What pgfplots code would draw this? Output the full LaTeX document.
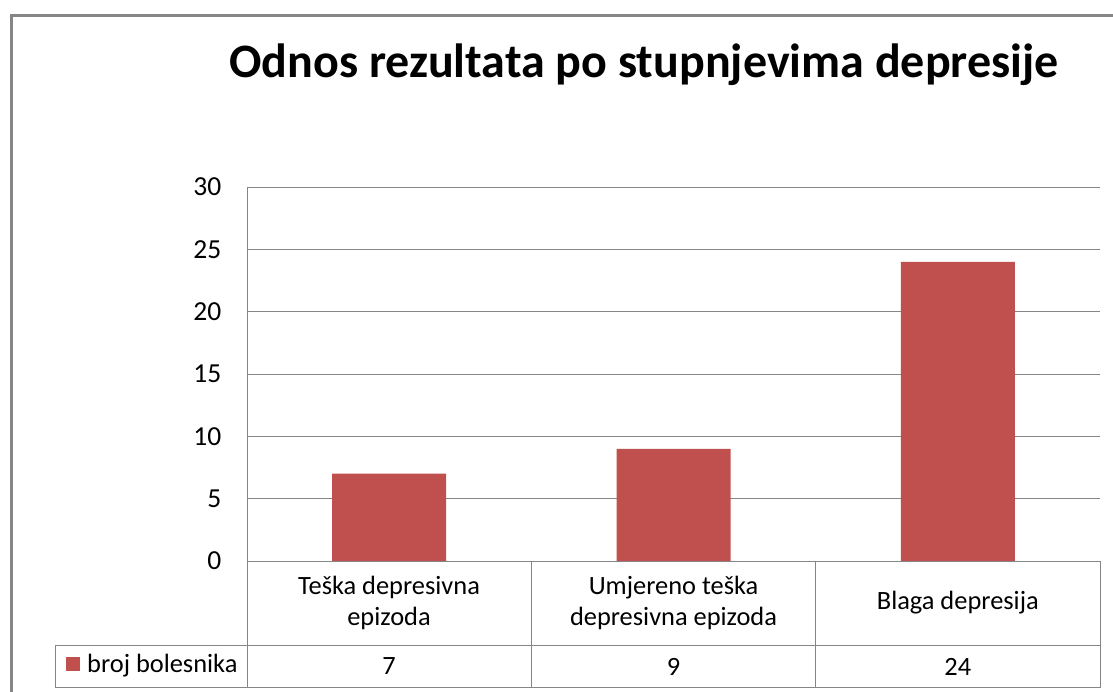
\documentclass[border=0pt]{standalone}
\usepackage{fontspec}
\setmainfont{Carlito}
\usepackage{pgfplots}
\pgfplotsset{compat=1.18}
\definecolor{barred}{HTML}{C0504D}
\definecolor{gridgray}{HTML}{868686}
\newcommand{\bodyfont}{\fontsize{26.4}{31}\selectfont}

\begin{document}
\begin{tikzpicture}[x=1pt,y=1pt]
\path[use as bounding box] (0,0) rectangle (1113,-691);
% outer chart frame (cut by the picture edge)
\draw[gridgray, line width=2.5pt] (11.5,-720) -- (11.5,-15.5) -- (1140,-15.5);
\node[font=\fontsize{48}{58}\selectfont\bfseries, anchor=base] at (644,-77)
  {Odnos rezultata po stupnjevima depresije};

\begin{axis}[
  at={(247pt,-561pt)}, anchor=south west,
  width=853pt, height=374pt, scale only axis,
  xmin=-0.5, xmax=2.5, ymin=0, ymax=30,
  ytick={0,5,...,30}, xtick=\empty,
  major tick length=0pt,
  ymajorgrids, grid style={gridgray, line width=1pt},
  axis line style={draw=none},
  /pgf/number format/assume math mode=true,
  yticklabel style={font=\fontsize{27.5}{32}\selectfont, inner sep=0pt, xshift=-25.5pt, anchor=east},
  clip=false,
]
\addplot[ybar, bar width=114pt, fill=barred, draw=none] coordinates {(0,7) (1,9) (2,24)};
\end{axis}

% y axis line
\draw[gridgray, line width=1pt] (247,-187) -- (247,-561);
% data table
\begin{scope}[gridgray, line width=1pt]
\draw (247,-561) -- (1100,-561);
\draw (55,-645) -- (1100,-645);
\draw (55,-687.5) -- (1100,-687.5);
\draw (55,-645) -- (55,-687.5);
\foreach \xx in {247,531.3,815.7,1100} \draw (\xx,-561) -- (\xx,-687.5);
\end{scope}
\node[font=\bodyfont, align=center] at (389,-603) {Teška depresivna\\epizoda};
\node[font=\bodyfont, align=center] at (673.5,-603) {Umjereno teška\\depresivna epizoda};
\node[font=\bodyfont, align=center] at (957.8,-603) {Blaga depresija};
\fill[barred] (66,-657) rectangle (80,-671);
\node[font=\bodyfont, anchor=west, inner sep=0pt] at (87,-666) {broj bolesnika};
\node[font=\bodyfont] at (389,-666.5) {7};
\node[font=\bodyfont] at (673.5,-666.5) {9};
\node[font=\bodyfont] at (957.8,-666.5) {24};
\end{tikzpicture}
\end{document}
